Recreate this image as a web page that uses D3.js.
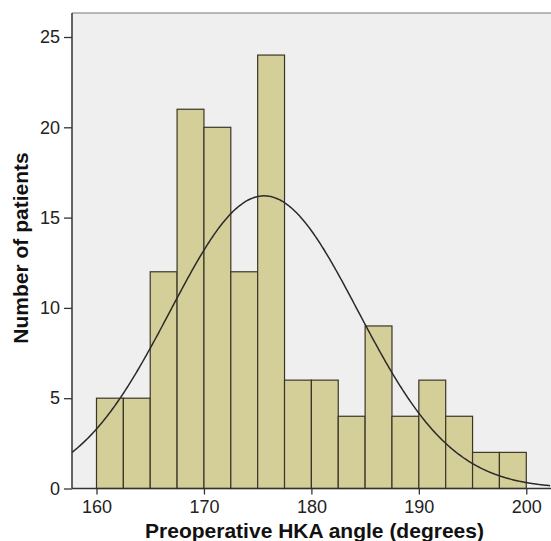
<!DOCTYPE html>
<html><head><meta charset="utf-8">
<script src="https://cdn.jsdelivr.net/npm/d3@7"></script>
<style>body{margin:0;background:#fff}svg{display:block}</style>
</head><body>
<script>
const binStarts = [160,162.5,165,167.5,170,172.5,175,177.5,180,182.5,185,187.5,190,192.5,195,197.5];
const counts = [5,5,12,21,20,12,24,6,6,4,9,4,6,4,2,2];
const binWidth = 2.5;
const fitMean = 175.6;
const fitSD = 8.74;
const xTicks = [160,170,180,190,200];
const yTicks = [0,5,10,15,20,25];

const W = 551, H = 541;
const m = {left:72, top:13, right:0, bottom:53};
const svg = d3.select("body").append("svg").attr("width",W).attr("height",H);
const x = d3.scaleLinear().domain([157.72, 202.3]).range([m.left, W]);
const y = d3.scaleLinear().domain([0, 25]).range([488.5, 37]);
const font = "Liberation Sans, Arial, Helvetica, sans-serif";

svg.append("rect").attr("x",m.left).attr("y",m.top).attr("width",W-m.left).attr("height",488.5-m.top).attr("fill","#efefef");
svg.append("line").attr("x1",m.left).attr("x2",W).attr("y1",m.top).attr("y2",m.top).attr("stroke","#777").attr("stroke-width",1.2);

svg.append("g").selectAll("rect").data(binStarts).join("rect")
  .attr("x",d=>x(d)).attr("width",d=>x(d+binWidth)-x(d))
  .attr("y",(d,i)=>y(counts[i])).attr("height",(d,i)=>y(0)-y(counts[i]))
  .attr("fill","#d4cf98").attr("stroke","#3a3628").attr("stroke-width",1.2);

const N = d3.sum(counts);
const pts = d3.range(157.72, 202.3, 0.1).map(v=>[v, N*binWidth/(fitSD*Math.sqrt(2*Math.PI))*Math.exp(-0.5*((v-fitMean)/fitSD)**2)]);
svg.append("path").attr("d", d3.line().x(d=>x(d[0])).y(d=>y(d[1])).curve(d3.curveBasis)(pts))
  .attr("fill","none").attr("stroke","#2a2a2a").attr("stroke-width",1.5);

const xa = svg.append("g").attr("transform",`translate(0,${y(0)})`)
  .call(d3.axisBottom(x).tickValues(xTicks).tickSize(6).tickSizeOuter(0).tickPadding(6));
const ya = svg.append("g").attr("transform",`translate(${m.left},0)`)
  .call(d3.axisLeft(y).tickValues(yTicks).tickSize(8).tickSizeOuter(0).tickPadding(4));
[xa,ya].forEach(g=>{
  g.select(".domain").attr("stroke","#333").attr("stroke-width",1.5);
  g.selectAll(".tick line").attr("stroke","#333").attr("stroke-width",1.3);
  g.selectAll("text").attr("font-family",font).attr("font-size",18).attr("fill","#222");
});
xa.select(".domain").attr("d",`M${m.left},0H${W}`);
ya.select(".domain").attr("d",`M0,${m.top}V${y(0)}`);

svg.append("text").attr("x",314.5).attr("y",538).attr("text-anchor","middle")
  .attr("font-family",font).attr("font-weight","bold").attr("font-size",21).attr("fill","#111")
  .text("Preoperative HKA angle (degrees)");
svg.append("text").attr("transform","translate(28,248) rotate(-90)").attr("text-anchor","middle")
  .attr("font-family",font).attr("font-weight","bold").attr("font-size",21).attr("fill","#111")
  .text("Number of patients");
</script>
</body></html>
